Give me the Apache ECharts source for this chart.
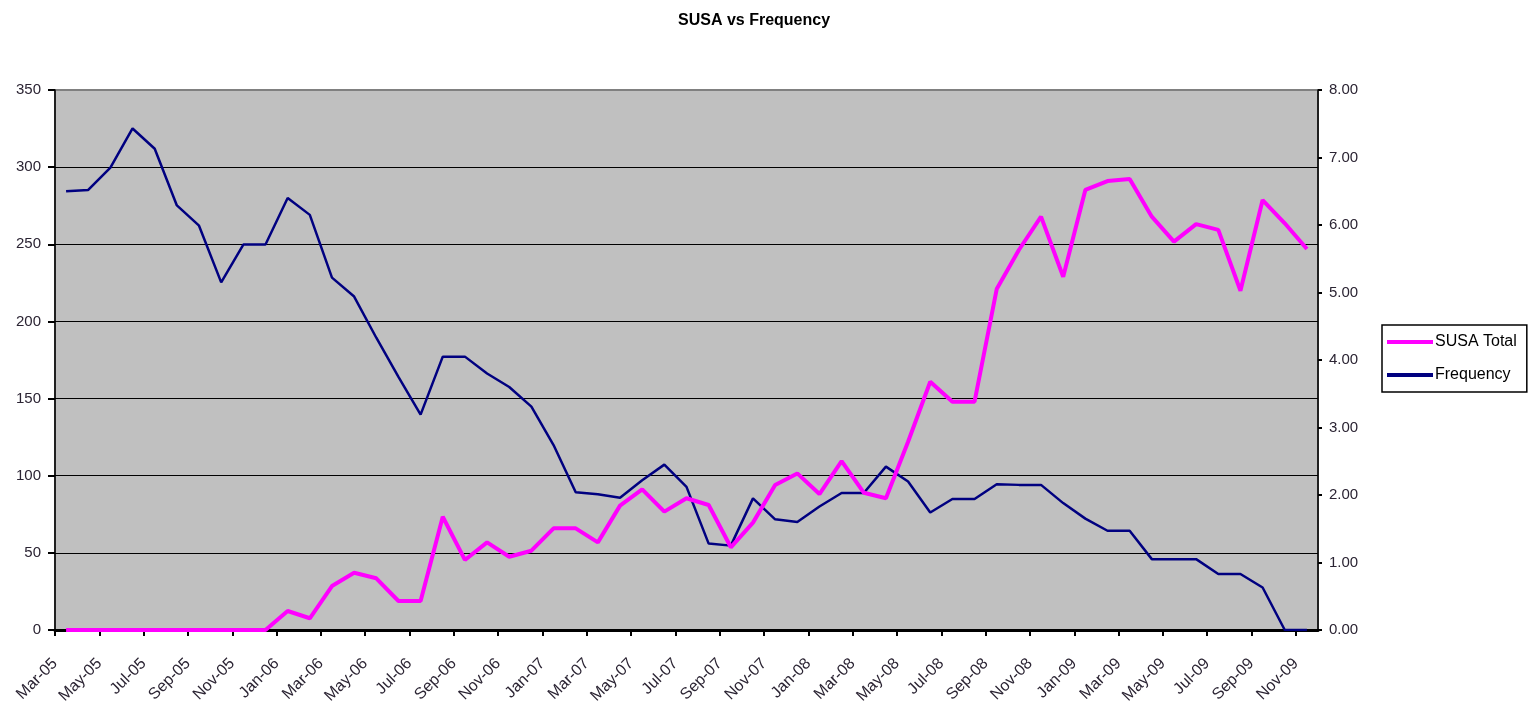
<!DOCTYPE html>
<html>
<head>
<meta charset="utf-8">
<title>SUSA vs Frequency</title>
<script src="https://cdn.jsdelivr.net/npm/echarts@6/dist/echarts.min.js"></script>
<style>
  html, body { margin: 0; padding: 0; background: #fff; }
  #chart { width: 1529px; height: 707px; }
</style>
</head>
<body>
<div id="chart"></div>
<script>
// categories: one per month, Mar-05 .. Nov-09
const months = [
  "Mar-05", "Apr-05", "May-05", "Jun-05", "Jul-05", "Aug-05", "Sep-05", "Oct-05", "Nov-05", "Dec-05",
  "Jan-06", "Feb-06", "Mar-06", "Apr-06", "May-06", "Jun-06", "Jul-06", "Aug-06", "Sep-06", "Oct-06", "Nov-06", "Dec-06",
  "Jan-07", "Feb-07", "Mar-07", "Apr-07", "May-07", "Jun-07", "Jul-07", "Aug-07", "Sep-07", "Oct-07", "Nov-07", "Dec-07",
  "Jan-08", "Feb-08", "Mar-08", "Apr-08", "May-08", "Jun-08", "Jul-08", "Aug-08", "Sep-08", "Oct-08", "Nov-08", "Dec-08",
  "Jan-09", "Feb-09", "Mar-09", "Apr-09", "May-09", "Jun-09", "Jul-09", "Aug-09", "Sep-09", "Oct-09", "Nov-09"
];
// tick labels sit on the month boundaries (one more boundary than months)
const tickLabels = months.concat(["Dec-09"]);

const susaTotal = [
  0, 0, 0, 0, 0, 0, 0, 0, 0, 0,
  12.3, 7.6, 28.5, 37.1, 33.5, 18.8, 18.8, 73.4, 45.4, 56.8, 47.5, 51.4,
  65.9, 65.9, 56.8, 80.6, 91.2, 76.7, 85.4, 81.0, 53.6, 69.6, 94.0, 101.5,
  88.1, 109.5, 89.0, 85.4, 122, 160.9, 148.0, 148.0, 221, 246.3, 267.9, 229.0,
  285.2, 291.0, 292.3, 267.9, 251.7, 263.1, 259.3, 219.9, 278.7, 263.6, 246.9
];

const frequency = [
  6.50, 6.52, 6.85, 7.43, 7.13, 6.29, 5.99, 5.15, 5.71, 5.71,
  6.40, 6.15, 5.22, 4.94, 4.33, 3.75, 3.19, 4.05, 4.05, 3.80, 3.60, 3.31,
  2.74, 2.04, 2.01, 1.96, 2.22, 2.45, 2.12, 1.28, 1.25, 1.95, 1.64, 1.60,
  1.83, 2.03, 2.03, 2.42, 2.20, 1.74, 1.94, 1.94, 2.16, 2.15, 2.15, 1.88,
  1.65, 1.47, 1.47, 1.05, 1.05, 1.05, 0.83, 0.83, 0.63, 0, 0
];

const leftTicks = { min: 0, max: 350, step: 50 };
const rightTicks = { min: 0, max: 8, step: 1 };

const FONT = "Liberation Sans, Arial, sans-serif";
const TEXT = "#2b2433";

const chart = echarts.init(document.getElementById("chart"));

const option = {
  backgroundColor: "#fff",
  animation: false,
  title: {
    text: "SUSA vs Frequency",
    left: 673,
    top: 8,
    textStyle: { fontFamily: FONT, fontSize: 16, fontWeight: "bold", color: "#000" }
  },
  legend: {
    data: ["SUSA Total", "Frequency"],
    orient: "vertical",
    left: 1382,
    top: 325,
    padding: [9, 10, 9, 5],
    itemGap: 17,
    itemWidth: 46,
    itemHeight: 4,
    icon: "rect",
    backgroundColor: "#fff",
    borderColor: "#000",
    borderWidth: 1.5,
    textStyle: { fontFamily: FONT, fontSize: 16, color: "#000", padding: [0, 0, 0, -3] }
  },
  grid: {
    left: 55,
    right: 211,
    top: 90,
    bottom: 77,
    show: true,
    backgroundColor: "#C0C0C0",
    borderColor: "#808080",
    borderWidth: 2
  },
  xAxis: [
    {
      type: "category",
      data: months,
      boundaryGap: true,
      axisLine: { lineStyle: { color: "#000", width: 3 } },
      axisTick: { show: false },
      axisLabel: { show: false },
      splitLine: { show: false }
    },
    {
      type: "category",
      data: tickLabels,
      boundaryGap: false,
      position: "bottom",
      axisLine: { show: false },
      axisTick: { interval: 1, length: 6, lineStyle: { color: "#000", width: 2 } },
      axisLabel: {
        interval: 1,
        rotate: 45,
        margin: 31,
        fontFamily: FONT,
        fontSize: 16,
        color: TEXT
      },
      splitLine: { show: false }
    }
  ],
  yAxis: [
    {
      type: "value",
      min: leftTicks.min,
      max: leftTicks.max,
      interval: leftTicks.step,
      axisLine: { show: true, lineStyle: { color: "#000", width: 1.5 } },
      axisTick: { show: true, length: 7, lineStyle: { color: "#000", width: 2 } },
      axisLabel: { margin: 14, fontFamily: FONT, fontSize: 15, color: TEXT },
      splitLine: { show: true, showMaxLine: false, lineStyle: { color: "#000", width: 1.2 } }
    },
    {
      type: "value",
      position: "right",
      min: rightTicks.min,
      max: rightTicks.max,
      interval: rightTicks.step,
      axisLine: { show: true, lineStyle: { color: "#000", width: 1.5 } },
      axisTick: { show: true, length: 4, lineStyle: { color: "#000", width: 2 } },
      axisLabel: {
        margin: 11,
        fontFamily: FONT,
        fontSize: 15,
        color: TEXT,
        formatter: v => v.toFixed(2)
      },
      splitLine: { show: false }
    }
  ],
  series: [
    {
      name: "Frequency",
      type: "line",
      yAxisIndex: 1,
      xAxisIndex: 0,
      data: frequency,
      symbol: "none",
      z: 3,
      lineStyle: { color: "#000080", width: 2.5 },
      itemStyle: { color: "#000080" }
    },
    {
      name: "SUSA Total",
      type: "line",
      yAxisIndex: 0,
      xAxisIndex: 0,
      data: susaTotal,
      symbol: "none",
      z: 4,
      lineStyle: { color: "#FF00FF", width: 4 },
      itemStyle: { color: "#FF00FF" }
    }
  ]
};

chart.setOption(option);
window.addEventListener("resize", () => chart.resize());
</script>
</body>
</html>
